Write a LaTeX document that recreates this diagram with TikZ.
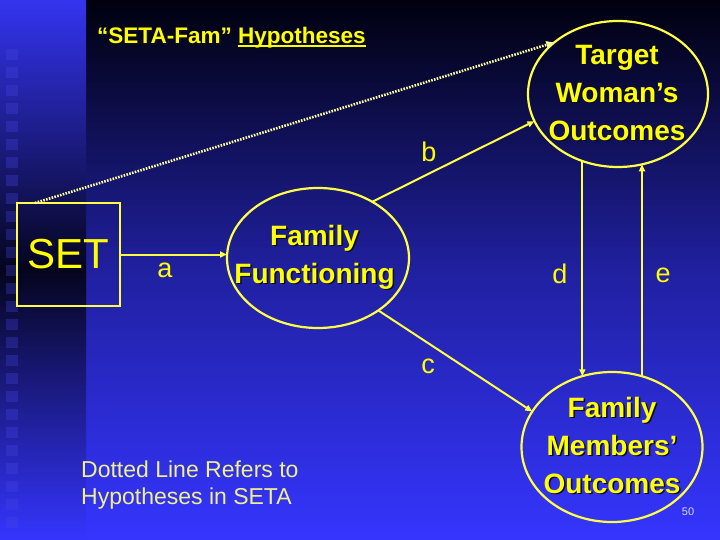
\documentclass[tikz,border=0pt]{standalone}
\usepackage{fontspec}
\setmainfont{Liberation Sans}
\usetikzlibrary{shapes.geometric,arrows.meta,calc}
\definecolor{ylw}{RGB}{255,255,0}
\definecolor{lineY}{RGB}{255,255,70}
\definecolor{dotY}{RGB}{250,250,160}
\definecolor{paleY}{RGB}{240,240,140}
\definecolor{shadowc}{RGB}{10,10,30}
\definecolor{bgtop}{RGB}{0,0,14}
\definecolor{bgmid}{RGB}{32,32,160}
\definecolor{bgbot}{RGB}{53,53,255}
\definecolor{sttop}{RGB}{52,52,240}
\definecolor{stmid}{RGB}{5,5,30}
\definecolor{sqc}{RGB}{70,70,230}
\definecolor{pagec}{RGB}{215,215,255}
\newcommand\shad[1]{\leavevmode\rlap{\kern1.5pt\raisebox{-1.5pt}{\color{shadowc}#1}}#1}
\newcommand\ulx[1]{\setbox0\hbox{#1}\rlap{\rule[-2.8pt]{\wd0}{1.6pt}}\box0}
\begin{document}
\begin{tikzpicture}[x=1pt,y=-1pt,
  ebox/.style={ellipse,draw=lineY,line width=2.2pt,inner sep=0pt,outer sep=0pt},
  etext/.style={text=ylw,align=center,inner sep=0pt,font=\fontsize{28}{38}\selectfont\bfseries},
  lbl/.style={text=ylw,inner sep=0pt,anchor=base,font=\fontsize{27}{30}\selectfont},
  arr/.style={draw=lineY,line width=2pt,-{Triangle[length=7pt,width=6pt]}},
  dotl/.style={draw=dotY,line width=2.6pt,dash pattern=on 1.6pt off 1.3pt,-{Triangle[length=8pt,width=7pt]}},
  sq/.style={fill=sqc,fill opacity=0.3}]
\useasboundingbox (0,0) rectangle (720,540);
% background
\fill[top color=bgtop,bottom color=bgbot,middle color=bgmid] (0,0) rectangle (720,540);
\fill[top color=sttop,bottom color=bgbot,middle color=stmid] (0,0) rectangle (86,540);
\foreach \i in {0,...,26} \fill[sq] (6,{49+18*\i}) rectangle (18,{60+18*\i});
% title
\node[anchor=base west,inner sep=0pt,text=ylw,font=\fontsize{22.5}{26}\selectfont\bfseries] (title) at (97,44)
  {\shad{“SETA-Fam”} \shad{\ulx{Hypotheses}}};
% nodes
\node[draw=lineY,line width=2pt,minimum size=103pt,inner sep=0pt,outer sep=0pt,text=ylw,
  font=\fontsize{42}{46}\selectfont] (set) at (68.5,254.5) {SET};
\node[ebox,minimum width=182pt,minimum height=140pt] (ff) at (318,258) {};
\node[ebox,minimum width=180pt,minimum height=146pt] (tw) at (618,94) {};
\node[ebox,minimum width=181pt,minimum height=150pt] (fm) at (612,447) {};
\node[etext] (fft) at (314.5,258) {\shad{Family}\\\shad{Functioning}};
\node[etext] (twt) at (617,93.5) {\shad{Target}\\\shad{Woman’s}\\\shad{Outcomes}};
\node[etext] (fmt) at (612,446) {\shad{Family}\\\shad{Members’}\\\shad{Outcomes}};
% connectors
\draw[dotl] ($(set.north west)+(18,0)$) -- (tw.141);
\draw[arr] (set.east) -- (set.east -| ff.west);
\draw[arr] (ff.46) -- (tw.198.6);
\draw[arr] (ff.-41) -- (fm.156.4);
\draw[arr] (tw.-118.3) -- (tw.-118.3 |- fm.113);
\draw[arr] (fm.67) -- (fm.67 |- tw.-71.2);
% labels
\node[lbl] (la) at (165,277) {a};
\node[lbl] (lb) at (429,162) {b};
\node[lbl] (lc) at (428,373) {c};
\node[lbl] (ld) at (560,283) {d};
\node[lbl] (le) at (663,282) {e};
% note
\node[anchor=north west,align=left,inner sep=0pt,text=paleY,font=\fontsize{23}{27.5}\selectfont] (note) at (81,460.2)
  {Dotted Line Refers to\\Hypotheses in SETA};
\node[anchor=base,inner sep=0pt,text=pagec,font=\fontsize{11}{13}\selectfont] (pg) at (688,515) {50};
\end{tikzpicture}
\end{document}
